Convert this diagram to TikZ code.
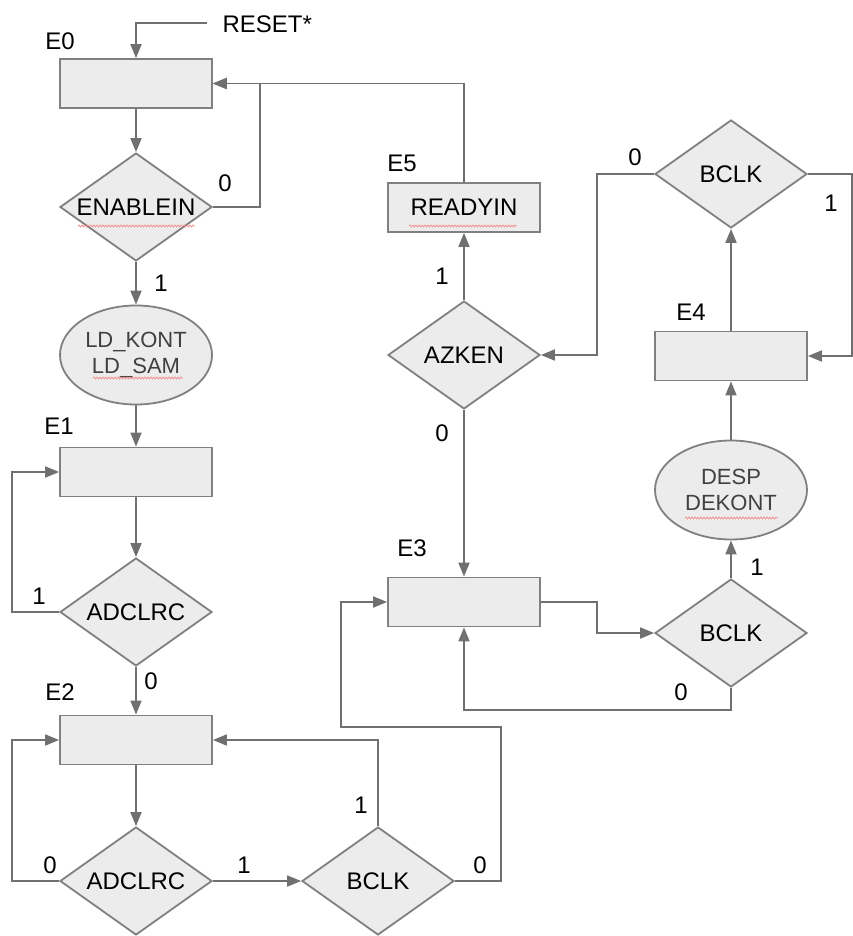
\documentclass[tikz,border=0pt]{standalone}
\usepackage{fontspec}
\setmainfont{Liberation Sans}
\usetikzlibrary{arrows.meta,shapes.geometric,decorations.pathmorphing}
\definecolor{linegray}{HTML}{707070}
\definecolor{boxfill}{HTML}{ECECEC}
\definecolor{boxline}{HTML}{808080}
\definecolor{spellred}{HTML}{F08C8C}
\begin{document}
\begin{tikzpicture}[x=1pt,y=-1pt,>={Triangle[length=14pt,width=11pt]},
  font=\fontsize{24}{26}\selectfont,
  state/.style={draw=boxline,fill=boxfill,line width=1.8pt,minimum width=152pt,minimum height=49pt,inner sep=0pt},
  cond/.style={draw=boxline,fill=boxfill,line width=1.8pt,diamond,aspect=1.41,minimum width=152pt,minimum height=108pt,inner sep=0pt},
  act/.style={draw=boxline,fill=boxfill,line width=1.8pt,ellipse,minimum width=152pt,minimum height=99pt,inner sep=0pt,align=center,text=black!75,font=\fontsize{22}{26}\selectfont},
  flow/.style={->,draw=linegray,line width=1.8pt},
  wavy/.style={spellred,line width=0.7pt,decorate,decoration={snake,amplitude=1pt,segment length=3pt}}]
\useasboundingbox (0,0) rectangle (853,936);

\node[state] (e0) at (136,83.5) {};
\node[cond] (en) at (136,207) {ENABLEIN};
\node[act] (ld) at (136,355) {LD\_KONT\\LD\_SAM};
\node[state] (e1) at (136,472) {};
\node[cond] (ad1) at (136,612) {ADCLRC};
\node[state] (e2) at (136,740) {};
\node[cond] (ad2) at (136,881) {ADCLRC};
\node[cond] (bk1) at (378,881) {BCLK};
\node[state] (e3) at (464,602) {};
\node[cond] (bk2) at (731,633) {BCLK};
\node[act] (de) at (731,490) {DESP\\DEKONT};
\node[state] (e4) at (731,356) {};
\node[cond] (bk3) at (731,174) {BCLK};
\node[cond] (az) at (464,355) {AZKEN};
\node[state] (e5) at (464,207.5) {READYIN};

\node (t0) at (60,41) {E0};
\node (t1) at (59,426) {E1};
\node (t2) at (60,692) {E2};
\node (t3) at (412,548) {E3};
\node (t4) at (691,312) {E4};
\node (t5) at (402,163) {E5};

\coordinate (rs) at (207,23);
\node[anchor=west] (rst) at (219,24) {RESET*};
\draw[flow] (rs) -| (e0.north);

\draw[flow] (e0) -- (en);
\draw[flow] (en.east) -- ++(47,0) |- (e0.east);
\draw[flow] (en) -- (ld);
\draw[flow] (ld) -- (e1);
\draw[flow] (e1) -- (ad1);
\draw[flow] (ad1.west) -- ++(-47,0) |- (e1.west);
\draw[flow] (ad1) -- (e2);
\draw[flow] (e2) -- (ad2);
\draw[flow] (ad2.west) -- ++(-47,0) |- (e2.west);
\draw[flow] (ad2) -- (bk1);
\draw[flow] (bk1.north) |- (e2.east);
\draw[flow] (bk1.east) -- (501,881) -- (501,727) -- (341,727) |- (e3.west);
\draw[flow] (e3.east) -- ++(56,0) |- (bk2.west);
\draw[flow] (bk2) -- (de);
\draw[flow] (bk2.south) -- ++(0,22) -| (e3.south);
\draw[flow] (de) -- (e4);
\draw[flow] (e4) -- (bk3);
\draw[flow] (bk3.east) -- ++(44,0) |- (e4.east);
\draw[flow] (bk3.west) -- ++(-57,0) |- (az.east);
\draw[flow] (az) -- (e5);
\draw[flow] (az) -- (e3);
\draw[flow] (e5.north) |- (e0.east);

\node (b0) at (225,183) {0};
\node (b1) at (161,283) {1};
\node (b2) at (39,596) {1};
\node (b3) at (151,681) {0};
\node (b4) at (50,865) {0};
\node (b5) at (244,865) {1};
\node (b6) at (361,805) {1};
\node (b7) at (480,865) {0};
\node (b8) at (757,567) {1};
\node (b9) at (681,692) {0};
\node (b10) at (635,157) {0};
\node (b11) at (831,203) {1};
\node (b12) at (442,276) {1};
\node (b13) at (442,433) {0};

\draw[wavy] (78,226) -- (195,226);
\draw[wavy] (93,378) -- (183,378);
\draw[wavy] (409,226) -- (517,226);
\draw[wavy] (685,518) -- (778,518);
\end{tikzpicture}
\end{document}
